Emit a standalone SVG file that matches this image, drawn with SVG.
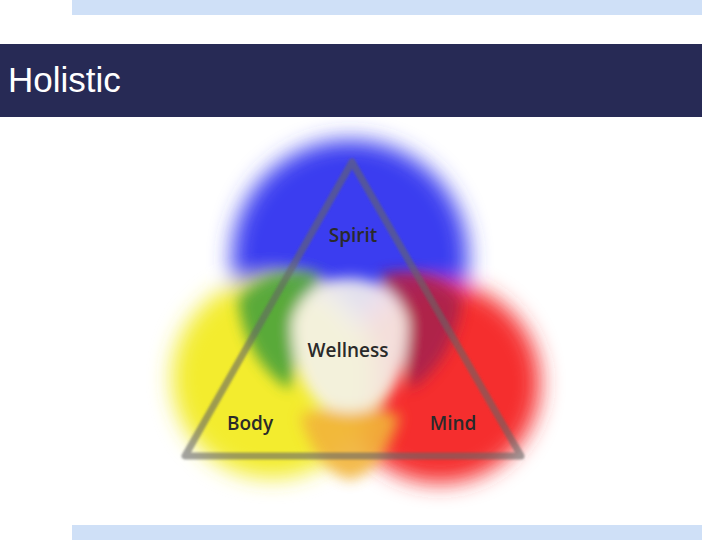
<svg xmlns="http://www.w3.org/2000/svg" width="720" height="540" viewBox="0 0 720 540">
<defs>
<filter id="blur" x="-30%" y="-30%" width="160%" height="160%"><feGaussianBlur stdDeviation="11"/></filter>
<filter id="soft" x="-30%" y="-30%" width="160%" height="160%"><feGaussianBlur stdDeviation="7"/></filter>
<filter id="line" x="-10%" y="-10%" width="120%" height="120%"><feGaussianBlur stdDeviation="1.2"/></filter>
<style>.lbl{font-family:"Open Sans","DejaVu Sans",sans-serif;font-size:19px;font-weight:600;fill:#2a2a2a;text-anchor:middle}</style>
</defs>
<rect width="720" height="540" fill="#fff"/>
<rect x="72" y="0" width="630" height="15" fill="#cfe0f7"/>
<rect x="0" y="44" width="702" height="73" fill="#272a55"/>
<text x="8" y="92" font-family="Liberation Sans,Arial,sans-serif" font-size="35" fill="#fff">Holistic</text>
<rect x="72" y="525" width="630" height="15" fill="#cfe0f7"/>
<g id="venn">
<g filter="url(#blur)">
<circle cx="350" cy="258" r="118" fill="#3a3cf0"/>
<circle cx="440" cy="383" r="100" fill="#f52f2f"/>
<circle cx="272" cy="378" r="100" fill="#f3ec2e"/>
</g>
<g filter="url(#soft)" opacity="0.9">
<path d="M238 300 Q270 262 320 275 Q300 330 290 390 Q245 360 238 300Z" fill="#4aa33a"/>
<path d="M380 275 Q430 262 462 300 Q455 360 410 390 Q400 330 380 275Z" fill="#a8244e"/>
<path d="M300 415 Q350 400 400 415 Q385 470 350 480 Q315 470 300 415Z" fill="#f2b43a"/>
<path d="M350 278 Q395 280 408 320 Q410 375 380 405 Q350 420 320 405 Q290 375 292 320 Q305 280 350 278Z" fill="#f4f2ee"/>
</g>
</g>
<g id="triangle"><polygon points="352,162 185,456 521,456" fill="none" stroke="#666" stroke-opacity="0.6" stroke-width="7" stroke-linejoin="round" filter="url(#line)"/></g>
<g id="spirit"><text class="lbl" x="353" y="242">Spirit</text></g>
<g id="wellness"><text class="lbl" x="348" y="357">Wellness</text></g>
<g id="body"><text class="lbl" x="250" y="430">Body</text></g>
<g id="mind"><text class="lbl" x="453" y="430">Mind</text></g>
</svg>
